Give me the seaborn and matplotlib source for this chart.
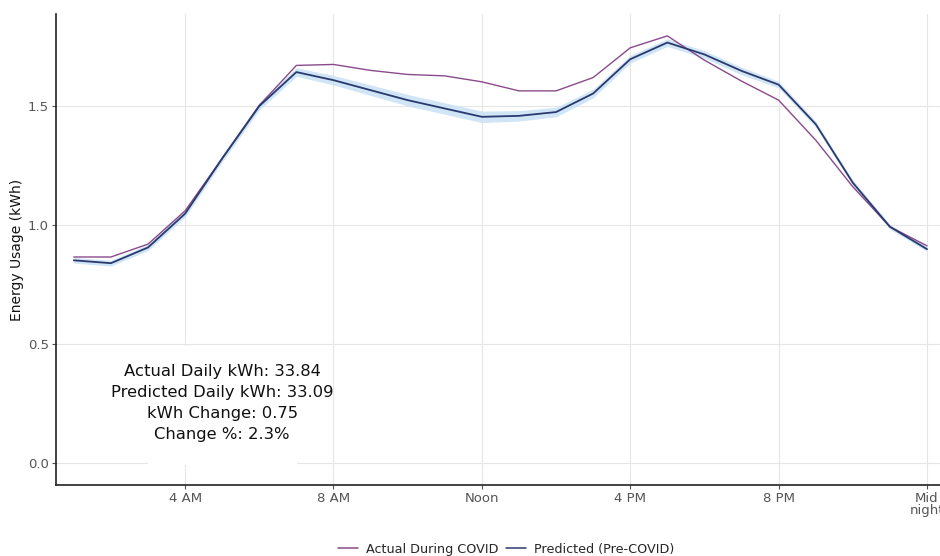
import matplotlib
matplotlib.use("Agg")
import matplotlib.pyplot as plt
from matplotlib.patches import Rectangle
import seaborn as sns
import pandas as pd

# Hour of day (1 = 1 AM ... 24 = midnight)
hours = list(range(1, 25))

# Average hourly energy usage (kWh)
actual_covid = [0.866, 0.866, 0.920, 1.060, 1.280, 1.503, 1.671, 1.675,
                1.650, 1.633, 1.627, 1.602, 1.564, 1.564, 1.620, 1.745,
                1.795, 1.693, 1.605, 1.525, 1.357, 1.161, 0.993, 0.913]
predicted_pre = [0.852, 0.840, 0.906, 1.048, 1.280, 1.500, 1.643, 1.609,
                 1.567, 1.525, 1.490, 1.455, 1.459, 1.475, 1.553, 1.697,
                 1.767, 1.717, 1.648, 1.590, 1.424, 1.178, 0.993, 0.899]
# Half-width of the prediction interval around the predicted curve
pred_halfwidth = [0.012, 0.012, 0.013, 0.014, 0.015, 0.016, 0.018, 0.020,
                  0.022, 0.024, 0.024, 0.024, 0.022, 0.020, 0.018, 0.016,
                  0.016, 0.016, 0.016, 0.014, 0.012, 0.011, 0.010, 0.010]

series_names = ["Actual During COVID", "Predicted (Pre-COVID)"]
series_colors = ["#8a4a8c", "#2b3a6e"]

tick_hours = [4, 8, 12, 16, 20, 24]
tick_labels = ["4 AM", "8 AM", "Noon", "4 PM", "8 PM", "Mid\nnight"]
y_ticks = [0.0, 0.5, 1.0, 1.5]

summary_lines = ["Actual Daily kWh: 33.84",
                 "Predicted Daily kWh: 33.09",
                 "kWh Change: 0.75",
                 "Change %: 2.3%"]

df = pd.DataFrame({
    "hour": hours * 2,
    "kwh": actual_covid + predicted_pre,
    "series": [series_names[0]] * len(hours) + [series_names[1]] * len(hours),
})

sns.set_theme(style="white")
plt.rcParams["font.family"] = ["DejaVu Sans"]

fig = plt.figure(figsize=(9.4, 5.56), dpi=100)
ax = fig.add_axes([56 / 940, 1 - 485 / 556, 1 - 56 / 940, (485 - 14) / 556])

# prediction band
lower = [p - h for p, h in zip(predicted_pre, pred_halfwidth)]
upper = [p + h for p, h in zip(predicted_pre, pred_halfwidth)]
ax.fill_between(hours, lower, upper, color="#c8e1f4", alpha=0.85, lw=0, zorder=2)

sns.lineplot(data=df, x="hour", y="kwh", hue="series", hue_order=series_names,
             palette=series_colors, ax=ax, linewidth=1.1, zorder=3)
for line, lw in zip(ax.get_lines()[:2], [1.0, 1.3]):
    line.set_linewidth(lw)

ax.set_xlim(0.52, 24.35)
ax.set_ylim(-0.092, 1.887)
ax.set_xticks(tick_hours)
ax.set_xticklabels(tick_labels, linespacing=0.95)
ax.set_yticks(y_ticks)
ax.set_yticklabels([f"{v:.1f}" for v in y_ticks])
ax.grid(True, color="#e6e6e6", linewidth=0.8, zorder=0)
ax.set_axisbelow(True)

for side in ["top", "right"]:
    ax.spines[side].set_visible(False)
for side in ["left", "bottom"]:
    ax.spines[side].set_color("#222222")
    ax.spines[side].set_linewidth(1.2)

ax.tick_params(axis="both", which="major", length=3, width=0.8, color="#555555",
               labelsize=9.5, labelcolor="#555555", pad=2, bottom=True, left=True)
ax.set_xlabel("")
ax.set_ylabel("Energy Usage (kWh)", fontsize=10, color="#111111", labelpad=3)

# white backing panel behind the daily summary
ax.add_patch(Rectangle((3.0, -0.006), 4.02, 0.5, facecolor="white",
                       edgecolor="none", zorder=1))
ax.text(5.0, 0.252, "\n".join(summary_lines), ha="center", va="center",
        fontsize=11.8, color="#111111", linespacing=1.5, zorder=4)

handles, labels = ax.get_legend_handles_labels()
leg = ax.legend(handles, labels, loc="center", ncol=2, frameon=False, fontsize=9.2,
                handlelength=1.6, columnspacing=0.6, handletextpad=0.6)
leg.set_bbox_to_anchor((506 / 940, 1 - 549 / 556), transform=fig.transFigure)

fig.savefig("out.png", dpi=100)
